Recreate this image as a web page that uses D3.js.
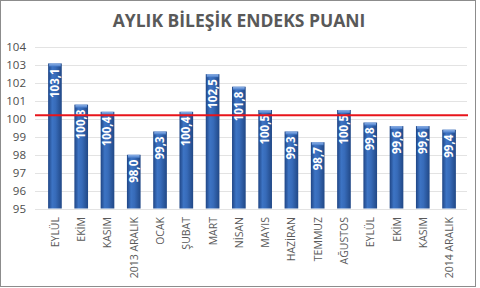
<!DOCTYPE html>
<html>
<head>
<meta charset="utf-8">
<script src="https://cdn.jsdelivr.net/npm/d3@7"></script>
<style>
  body { margin: 0; background: #fff; }
  svg { display: block; font-family: "Open Sans", "Liberation Sans", sans-serif; }
</style>
</head>
<body>
<script>
var months = ["EYLÜL", "EKİM", "KASIM", "2013 ARALIK", "OCAK", "ŞUBAT", "MART", "NİSAN",
              "MAYIS", "HAZİRAN", "TEMMUZ", "AĞUSTOS", "EYLÜL", "EKİM", "KASIM", "2014 ARALIK"];
var values = [103.1, 100.8, 100.4, 98.0, 99.3, 100.4, 102.5, 101.8,
              100.5, 99.3, 98.7, 100.5, 99.8, 99.6, 99.6, 99.4];
var yTicks = [95, 96, 97, 98, 99, 100, 101, 102, 103, 104];
var refLine = 100.2;

var width = 480, height = 288;

var svg = d3.select("body").append("svg")
    .attr("width", width)
    .attr("height", height);

// chart border
svg.append("rect")
    .attr("x", 0.5).attr("y", 0.5)
    .attr("width", 475).attr("height", 286)
    .attr("fill", "none")
    .attr("stroke", "#8c8c8c");

svg.append("text")
    .attr("x", 239).attr("y", 27)
    .attr("text-anchor", "middle")
    .attr("font-size", 17.5)
    .attr("font-weight", "bold")
    .attr("fill", "#595959")
    .text("AYLIK BİLEŞİK ENDEKS PUANI");

var x = d3.scaleBand()
    .domain(d3.range(months.length))
    .range([35.5, 468.5])
    .padding(0.48);

var y = d3.scaleLinear()
    .domain([95, 104])
    .range([208.5, 47.3]);

var defs = svg.append("defs");
var grad = defs.append("linearGradient").attr("id", "barGrad")
    .attr("x1", "0%").attr("x2", "100%").attr("y1", "0%").attr("y2", "0%");
grad.append("stop").attr("offset", "0%").attr("stop-color", "#1f4585");
grad.append("stop").attr("offset", "30%").attr("stop-color", "#3d74c4");
grad.append("stop").attr("offset", "55%").attr("stop-color", "#376bb9");
grad.append("stop").attr("offset", "100%").attr("stop-color", "#214886");

var capGrad = defs.append("linearGradient").attr("id", "capGrad")
    .attr("x1", "0%").attr("x2", "0%").attr("y1", "0%").attr("y2", "100%");
capGrad.append("stop").attr("offset", "0%").attr("stop-color", "#8fb2e6");
capGrad.append("stop").attr("offset", "100%").attr("stop-color", "#4b7fcc");

// grid
svg.append("g")
  .selectAll("line")
  .data(yTicks)
  .join("line")
    .attr("x1", 35).attr("x2", 467)
    .attr("y1", function(d) { return Math.round(y(d)) + 0.5; })
    .attr("y2", function(d) { return Math.round(y(d)) + 0.5; })
    .attr("stroke", "#e3e3e3");

// y axis labels
var yAxis = d3.axisLeft(y).tickValues(yTicks).tickSize(0).tickPadding(0)
    .tickFormat(d3.format("d"));
svg.append("g")
    .attr("transform", "translate(26,0)")
    .call(yAxis)
    .call(function(g) { g.select(".domain").remove(); })
    .selectAll("text")
    .attr("font-size", 11.5)
    .attr("fill", "#4d4d4d")
    .attr("font-family", "\"Open Sans\", sans-serif");

// bars
var bars = svg.append("g")
  .selectAll("g")
  .data(values)
  .join("g");

bars.append("rect")
    .attr("x", function(d, i) { return x(i); })
    .attr("y", function(d) { return y(d); })
    .attr("width", x.bandwidth())
    .attr("height", function(d) { return y(95) - y(d); })
    .attr("fill", "url(#barGrad)");

bars.append("rect")
    .attr("x", function(d, i) { return x(i) + 1; })
    .attr("y", function(d) { return y(d); })
    .attr("width", x.bandwidth() - 2)
    .attr("height", 3)
    .attr("fill", "url(#capGrad)");

// reference line
svg.append("line")
    .attr("x1", 35).attr("x2", 468)
    .attr("y1", y(refLine)).attr("y2", y(refLine))
    .attr("stroke", "#e8141b")
    .attr("stroke-width", 2);

// value labels
var fmt = function(d) { return d.toFixed(1).replace(".", ","); };
bars.append("text")
    .attr("transform", function(d, i) {
      return "translate(" + (x(i) + x.bandwidth() / 2 + 4) + "," + (y(d) + 5) + ") rotate(-90)";
    })
    .attr("text-anchor", "end")
    .attr("font-size", 11.5)
    .attr("font-weight", "bold")
    .attr("fill", "#fff")
    .text(fmt);

// x labels
svg.append("g")
  .selectAll("text")
  .data(months)
  .join("text")
    .attr("transform", function(d, i) {
      return "translate(" + (x(i) + x.bandwidth() / 2 + 4) + ",217) rotate(-90)";
    })
    .attr("text-anchor", "end")
    .attr("font-size", 10.5)
    .attr("fill", "#595959")
    .text(function(d) { return d; });
</script>
</body>
</html>
